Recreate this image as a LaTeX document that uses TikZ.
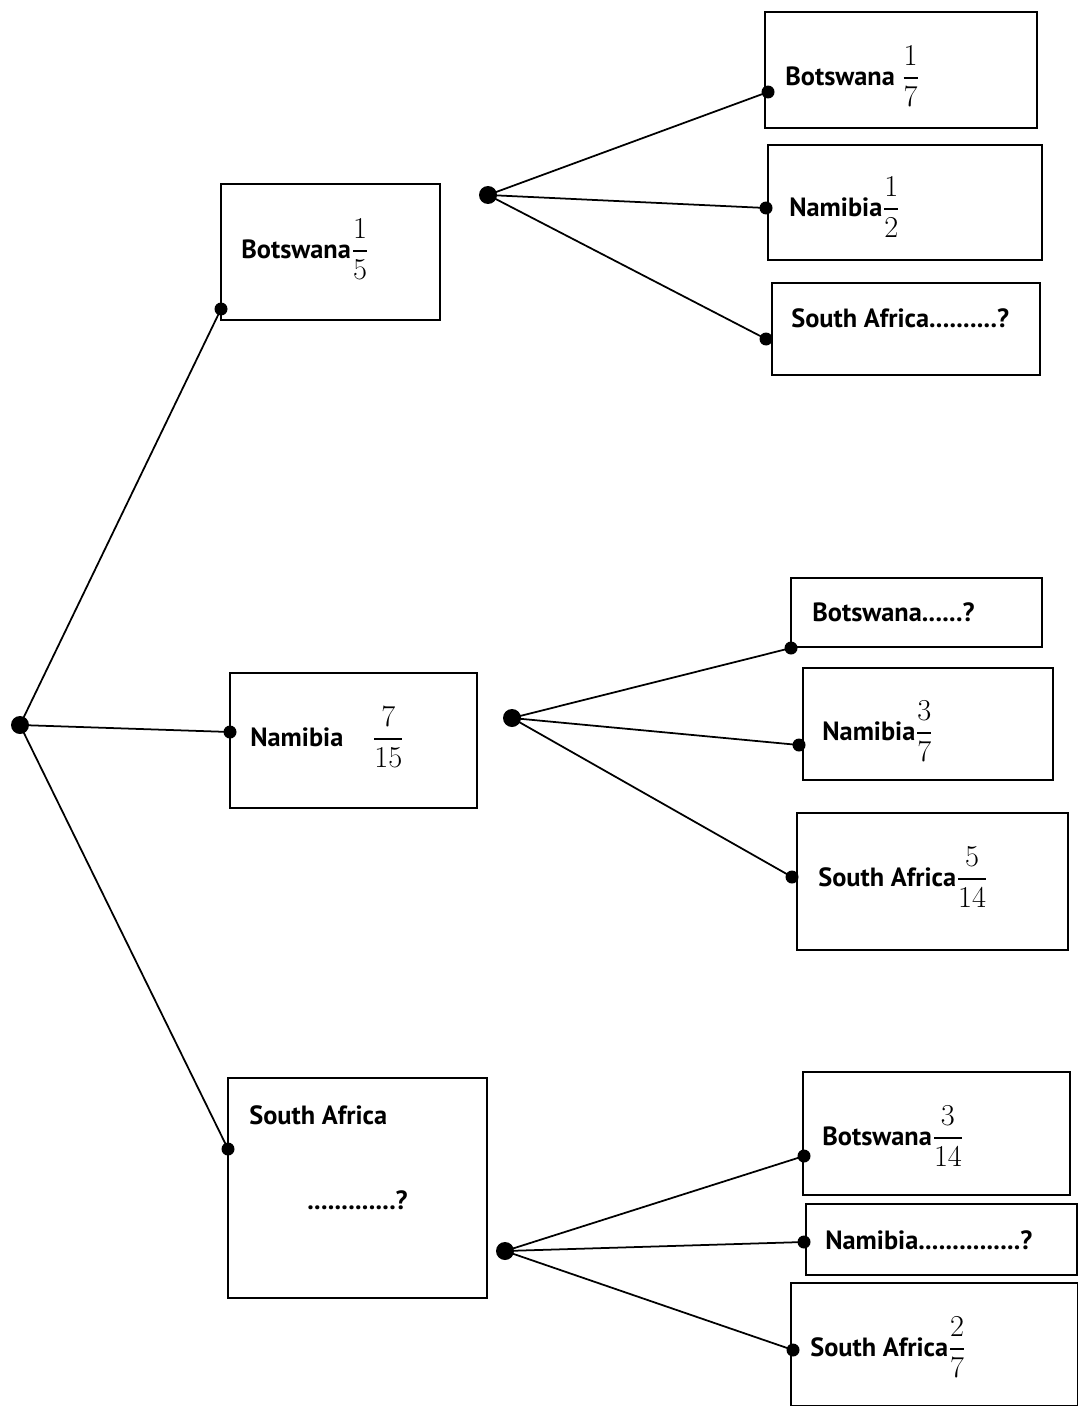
\documentclass[tikz,border=0pt]{standalone}
\usepackage{amsmath}
\usepackage{fontspec}
\setmainfont{PT Sans}
\usetikzlibrary{fit}
\newcommand{\fr}[2]{{\fontsize{19}{22}\selectfont$\dfrac{#1}{#2}$}}
\tikzset{
  tbox/.style={draw, line width=0.9pt, inner sep=0pt},
  dot/.style={circle, fill=black, inner sep=0pt, minimum size=0.26cm},
  hub/.style={circle, fill=black, inner sep=0pt, minimum size=0.36cm},
  lbl/.style={anchor=west, inner sep=0pt, font=\bfseries\fontsize{15}{18}\selectfont},
  branch/.style={line width=1pt}
}

\begin{document}
\begin{tikzpicture}[x=0.02cm, y=-0.02cm]
\useasboundingbox (0,0) rectangle (1078,1406);

% ====================================================================
%
%         Kaesten
%
% ====================================================================

  % erste Stufe
  \node[tbox, fit={(221,184) (440,320)}] (bw) {};
  \node[tbox, fit={(230,673) (477,808)}] (na) {};
  \node[tbox, fit={(228,1078) (487,1298)}] (sa) {};

  % zweite Stufe, oben
  \node[tbox, fit={(765,12) (1037,128)}] (bwbw) {};
  \node[tbox, fit={(768,145) (1042,260)}] (bwna) {};
  \node[tbox, fit={(772,283) (1040,375)}] (bwsa) {};

  % zweite Stufe, Mitte
  \node[tbox, fit={(791,578) (1042,647)}] (nabw) {};
  \node[tbox, fit={(803,668) (1053,780)}] (nana) {};
  \node[tbox, fit={(797,813) (1068,950)}] (nasa) {};

  % zweite Stufe, unten
  \node[tbox, fit={(803,1072) (1070,1195)}] (sabw) {};
  \node[tbox, fit={(806,1204) (1077,1275)}] (sana) {};
  \node[tbox, fit={(791,1283) (1078,1406)}] (sasa) {};

% ====================================================================
%
%         Texte
%
% ====================================================================

  \node[lbl] at (241,249) {Botswana\fr{1}{5}};
  \node[lbl] at (250,737) {Namibia\hspace{1.1em}\fr{7}{15}};
  \node[lbl] at (249,1115) {South Africa};
  \node[lbl] at (307,1200) {.............?};

  \node[lbl] at (785,76) {Botswana \fr{1}{7}};
  \node[lbl] at (789,207) {Namibia\fr{1}{2}};
  \node[lbl] at (791,318) {South Africa..........?};

  \node[lbl] at (812,612) {Botswana......?};
  \node[lbl] at (822,731) {Namibia\fr{3}{7}};
  \node[lbl] at (818,877) {South Africa\fr{5}{14}};

  \node[lbl] at (822,1136) {Botswana\fr{3}{14}};
  \node[lbl] at (825,1240) {Namibia...............?};
  \node[lbl] at (810,1347) {South Africa\fr{2}{7}};

% ====================================================================
%
%         Punkte
%
% ====================================================================

  \node[hub] (root) at (20,725) {};
  \node[dot] (d-bw) at (221,309) {};
  \node[dot] (d-na) at (230,732) {};
  \node[dot] (d-sa) at (228,1149) {};

  \node[hub] (h-bw) at (488,195) {};
  \node[hub] (h-na) at (512,718) {};
  \node[hub] (h-sa) at (505,1251) {};

  \node[dot] (d-bwbw) at (768,92) {};
  \node[dot] (d-bwna) at (766,208) {};
  \node[dot] (d-bwsa) at (766,339) {};

  \node[dot] (d-nabw) at (791,648) {};
  \node[dot] (d-nana) at (799,745) {};
  \node[dot] (d-nasa) at (792,877) {};

  \node[dot] (d-sabw) at (804,1156) {};
  \node[dot] (d-sana) at (804,1242) {};
  \node[dot] (d-sasa) at (793,1350) {};

% ====================================================================
%
%         Aeste
%
% ====================================================================

  \foreach \n in {bw,na,sa}{
    \draw[branch] (root.center) -- (d-\n.center);
    \foreach \m in {bw,na,sa}
      \draw[branch] (h-\n.center) -- (d-\n\m.center);
  }

\end{tikzpicture}
\end{document}
